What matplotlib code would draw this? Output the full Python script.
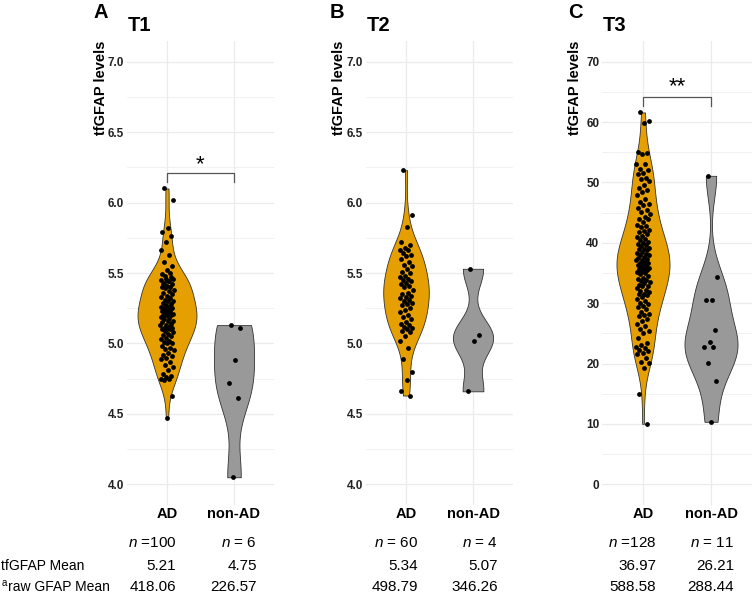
import numpy as np
import matplotlib.pyplot as plt

plt.rcParams['font.family'] = 'Liberation Sans'
plt.rcParams['mathtext.fontset'] = 'custom'
plt.rcParams['mathtext.it'] = 'Liberation Sans:italic'
plt.rcParams['mathtext.rm'] = 'Liberation Sans'

# tfGFAP values
t1_ad = [6.10, 6.02, 5.82, 5.79, 5.76, 5.72, 5.66, 5.63, 5.58, 5.55, 5.52, 5.49,
         5.50, 5.48, 5.46, 5.44, 5.42,
         5.47, 5.46, 5.45, 5.44, 5.43, 5.42, 5.41, 5.40, 5.40,
         5.39, 5.38, 5.37, 5.36, 5.35, 5.34, 5.33, 5.32, 5.31, 5.30, 5.30,
         5.29, 5.28, 5.27, 5.26, 5.26, 5.25, 5.25, 5.24, 5.23, 5.23, 5.22, 5.21, 5.21, 5.20, 5.20, 5.20,
         5.19, 5.18, 5.17, 5.16, 5.16, 5.15, 5.14, 5.13, 5.13, 5.12, 5.11, 5.11, 5.10, 5.10, 5.10,
         5.09, 5.08, 5.07, 5.06, 5.05, 5.04, 5.03, 5.02, 5.01, 5.00, 5.00,
         4.98, 4.97, 4.96, 4.95, 4.93, 4.92, 4.91, 4.90,
         4.89, 4.87, 4.85, 4.83, 4.81,
         4.78, 4.77, 4.76, 4.75, 4.75, 4.74,
         4.63, 4.47]
t1_non = [5.13, 5.11, 4.88, 4.72, 4.61, 4.05]

t2_ad = [6.23, 5.91, 5.83,
         5.72, 5.70, 5.68, 5.66,
         5.66, 5.64, 5.63, 5.62, 5.60,
         5.58, 5.56, 5.55, 5.53, 5.51, 5.50,
         5.48, 5.47, 5.46, 5.45, 5.44, 5.43, 5.42, 5.41, 5.40,
         5.38, 5.36, 5.35, 5.34, 5.33, 5.32, 5.31, 5.30,
         5.29, 5.28, 5.27, 5.25, 5.24, 5.22, 5.20,
         5.19, 5.17, 5.15, 5.14, 5.13, 5.12, 5.11, 5.10, 5.09,
         5.08, 5.05, 5.02,
         4.97, 4.89, 4.80, 4.74, 4.66, 4.63]
t2_non = [5.53, 5.06, 5.02, 4.66]

t3_ad = [61.6, 60.2, 59.8, 55.1,
         54.8, 54.7, 53.1, 53.0, 52.3, 52.0, 51.5, 51.4, 50.8, 50.5, 50.2,
         49.6, 49.0, 48.8, 48.5, 48.0, 47.3, 46.8, 46.4, 46.2, 45.8, 45.5, 45.1,
         44.8, 44.2, 44.0, 43.9, 43.5, 43.0, 42.8, 42.6, 42.2, 42.0, 41.8, 41.5, 41.2, 41.0,
         40.6, 40.4, 40.1, 40.0,
         39.8, 39.6, 39.5, 39.2, 39.0, 38.9, 38.8, 38.5, 38.3, 38.1, 38.0, 37.9, 37.7, 37.5,
         37.3, 37.2, 37.1, 36.9, 36.7, 36.6, 36.5, 36.3, 36.1, 36.0, 35.9, 35.7, 35.6, 35.5,
         35.3, 35.1, 35.0,
         34.8, 34.5, 34.2, 34.0, 33.9, 33.6, 33.5, 33.3, 33.0, 32.8, 32.8, 32.5, 32.2, 32.0,
         31.9, 31.6, 31.5, 31.3, 31.0, 30.7, 30.4, 30.1,
         29.8, 29.6, 29.4, 29.0, 28.6, 28.2, 28.0, 27.8, 27.4, 27.0, 26.6, 26.2, 25.8, 25.4, 25.1,
         24.2, 23.4, 23.0, 22.8, 22.5, 22.3, 22.0, 21.8, 21.5, 20.9, 20.3, 20.1,
         19.2, 15.0, 10.0]
t3_non = [51.1, 34.4, 30.6, 30.5, 25.6, 23.6, 22.8, 22.7, 20.1, 17.1, 10.35]

groups = ['AD', 'non-AD']
panel_letters = ['A', 'B', 'C']
panel_titles = ['T1', 'T2', 'T3']
n_labels = [['$n$ =100', '$n$ = 6'], ['$n$ = 60', '$n$ = 4'], ['$n$ =128', '$n$ = 11']]
tf_means = [['5.21', '4.75'], ['5.34', '5.07'], ['36.97', '26.21']]
raw_means = [['418.06', '226.57'], ['498.79', '346.26'], ['588.58', '288.44']]
sig_labels = ['*', None, '**']

data = [[t1_ad, t1_non], [t2_ad, t2_non], [t3_ad, t3_non]]
colors = ['#E69F00', '#999999']

W, H = 753, 594
fig = plt.figure(figsize=(W / 100, H / 100), dpi=100)


def fx(x):
    return x / W


def fy(y):
    return 1 - y / H


def nrd0(x):
    # R's default bandwidth
    sd = x.std(ddof=1)
    q75, q25 = np.percentile(x, [75, 25])
    lo = min(sd, (q75 - q25) / 1.34)
    if lo == 0:
        lo = sd
    return 0.9 * lo * len(x) ** -0.2


def draw_violin(ax, x0, vals, halfw, color):
    vals = np.asarray(vals)
    y = np.linspace(vals.min(), vals.max(), 512)
    bw = nrd0(vals)
    d = np.exp(-0.5 * ((y[:, None] - vals[None, :]) / bw) ** 2).sum(axis=1)
    d = d / d.max() * halfw
    ax.fill_betweenx(y, x0 - d, x0 + d, facecolor=color, edgecolor='#333333', lw=0.6, zorder=2)


def jitter(n, w=0.1):
    i = np.arange(n)
    return w * (2 * ((i * 0.6180339887 + 0.31) % 1) - 1)


lefts = [126.8, 365.8, 602.2]
widths = [147.4, 147.4, 149.6]
ax_top, ax_bot = 40.6, 505.4
ylims = [(3.85, 7.15), (3.85, 7.15), (-3.5, 73.5)]
majors = [np.arange(4, 7.01, 0.5), np.arange(4, 7.01, 0.5), np.arange(0, 71, 10)]
minors = [np.arange(4.25, 7, 0.5), np.arange(4.25, 7, 0.5), np.arange(5, 70, 10)]
tick_fmt = ['{:.1f}', '{:.1f}', '{:.0f}']
halfws = [[0.44, 0.30], [0.34, 0.30], [0.39, 0.39]]
brackets = [(6.143, 6.21, 6.233), None, (62.6, 64.2, 64.9)]

letter_x = [93, 330, 568]
title_x = [128, 367, 603]
ylab_x = [101, 339, 575]
ad_right = [176, 418, 656]
non_right = [257, 498, 734]

for k in range(3):
    ax = fig.add_axes([fx(lefts[k]), fy(ax_bot), widths[k] / W, (ax_bot - ax_top) / H])
    ax.set_xlim(0.4, 2.6)
    ax.set_ylim(*ylims[k])
    ax.set_yticks(majors[k])
    ax.set_yticklabels([tick_fmt[k].format(v) for v in majors[k]], fontweight='bold', fontsize=8.5, color='#222222')
    ax.set_yticks(minors[k], minor=True)
    ax.set_xticks([1, 2])
    ax.set_xticklabels(groups, fontweight='bold', fontsize=10.5)
    ax.tick_params(length=0, which='both')
    ax.tick_params(axis='y', pad=2)
    ax.tick_params(axis='x', pad=1.5)
    ax.grid(True, which='major', color='#EBEBEB', lw=0.9)
    ax.grid(True, which='minor', axis='y', color='#EBEBEB', lw=0.5)
    ax.set_axisbelow(True)
    for s in ax.spines.values():
        s.set_visible(False)

    for j in range(2):
        vals = np.asarray(data[k][j])
        draw_violin(ax, j + 1, vals, halfws[k][j], colors[j])
        ax.scatter(j + 1 + jitter(len(vals)), vals, s=12, color='black', zorder=3, linewidths=0)

    if brackets[k] is not None:
        y0, y1, yt = brackets[k]
        ax.plot([1, 1, 2, 2], [y0, y1, y1, y0], color='#555555', lw=0.9)
        ax.text(1.5, yt, sig_labels[k], ha='center', va='baseline', fontsize=16)

    fig.text(fx(letter_x[k]), fy(17.5), panel_letters[k], fontsize=14.5, fontweight='bold', va='baseline')
    fig.text(fx(title_x[k]), fy(30.7), panel_titles[k], fontsize=14.5, fontweight='bold', va='baseline')
    fig.text(fx(ylab_x[k]), fy(41), 'tfGFAP levels', rotation=90, fontsize=10.5, fontweight='bold',
             ha='center', va='top')

    for j, xr in enumerate([ad_right[k], non_right[k]]):
        fig.text(fx(xr), fy(547), n_labels[k][j], ha='right', va='baseline', fontsize=11)
        fig.text(fx(xr), fy(570), tf_means[k][j], ha='right', va='baseline', fontsize=11)
        fig.text(fx(xr), fy(591), raw_means[k][j], ha='right', va='baseline', fontsize=11)

fig.text(fx(1), fy(570), 'tfGFAP Mean', va='baseline', fontsize=10)
fig.text(fx(2), fy(586), 'a', va='baseline', fontsize=7)
fig.text(fx(8.5), fy(591), 'raw GFAP Mean', va='baseline', fontsize=10)

fig.savefig('out.png', dpi=100)
